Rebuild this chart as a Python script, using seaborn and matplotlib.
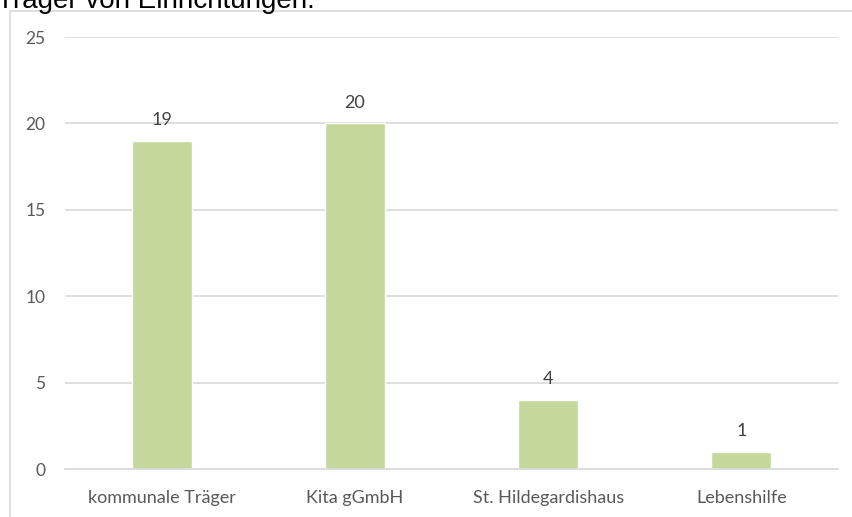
import matplotlib
matplotlib.use("Agg")
import matplotlib.pyplot as plt
import matplotlib.patches as patches
import seaborn as sns
import pandas as pd

# Daten
traeger = ["kommunale Träger", "Kita gGmbH", "St. Hildegardishaus", "Lebenshilfe"]
anzahl = [19, 20, 4, 1]
y_ticks = [0, 5, 10, 15, 20, 25]

df = pd.DataFrame({"Traeger": traeger, "Anzahl": anzahl})

sns.set_theme(style="white")
plt.rcParams["font.family"] = ["Lato", "DejaVu Sans"]

fig = plt.figure(figsize=(8.52, 5.17), dpi=100)
ax = fig.add_axes([0.0763, 0.0928, 0.9073, 0.8356])

sns.barplot(data=df, x="Traeger", y="Anzahl", color="#C5D89B", width=0.31,
            saturation=1, ax=ax)

ax.set_ylim(0, 25)
ax.set_xlim(-0.5, 3.5)
ax.set_yticks(y_ticks)
ax.yaxis.grid(True, color="#D9D9D9", linewidth=1.2)
ax.set_axisbelow(True)
for s in ["top", "right", "left"]:
    ax.spines[s].set_visible(False)
ax.spines["bottom"].set_color("#D9D9D9")
ax.spines["bottom"].set_linewidth(1.2)
ax.tick_params(axis="both", length=0, labelcolor="#595959")
ax.tick_params(axis="y", pad=14, labelsize=12.5)
ax.tick_params(axis="x", pad=15, labelsize=13)
ax.set_xlabel("")
ax.set_ylabel("")

# Werte ueber den Balken
for i, v in enumerate(anzahl):
    ax.annotate(str(v), (i, v), xytext=(0, 15), textcoords="offset points",
                ha="center", va="center", fontsize=13, color="#404040")

# Rahmen um das Diagramm
fig.patches.append(patches.Rectangle((10 / 852, -0.1), 1.2, 1 - 11 / 517 + 0.1,
                                     transform=fig.transFigure, fill=False,
                                     edgecolor="#D9D9D9", linewidth=1.2))

# abgeschnittener Titel
fig.text(-0.004, 1 - 8 / 517, "Träger von Einrichtungen.", fontsize=20,
         family=["Liberation Sans"], color="black", ha="left", va="baseline")

fig.savefig("out.png", dpi=100)
